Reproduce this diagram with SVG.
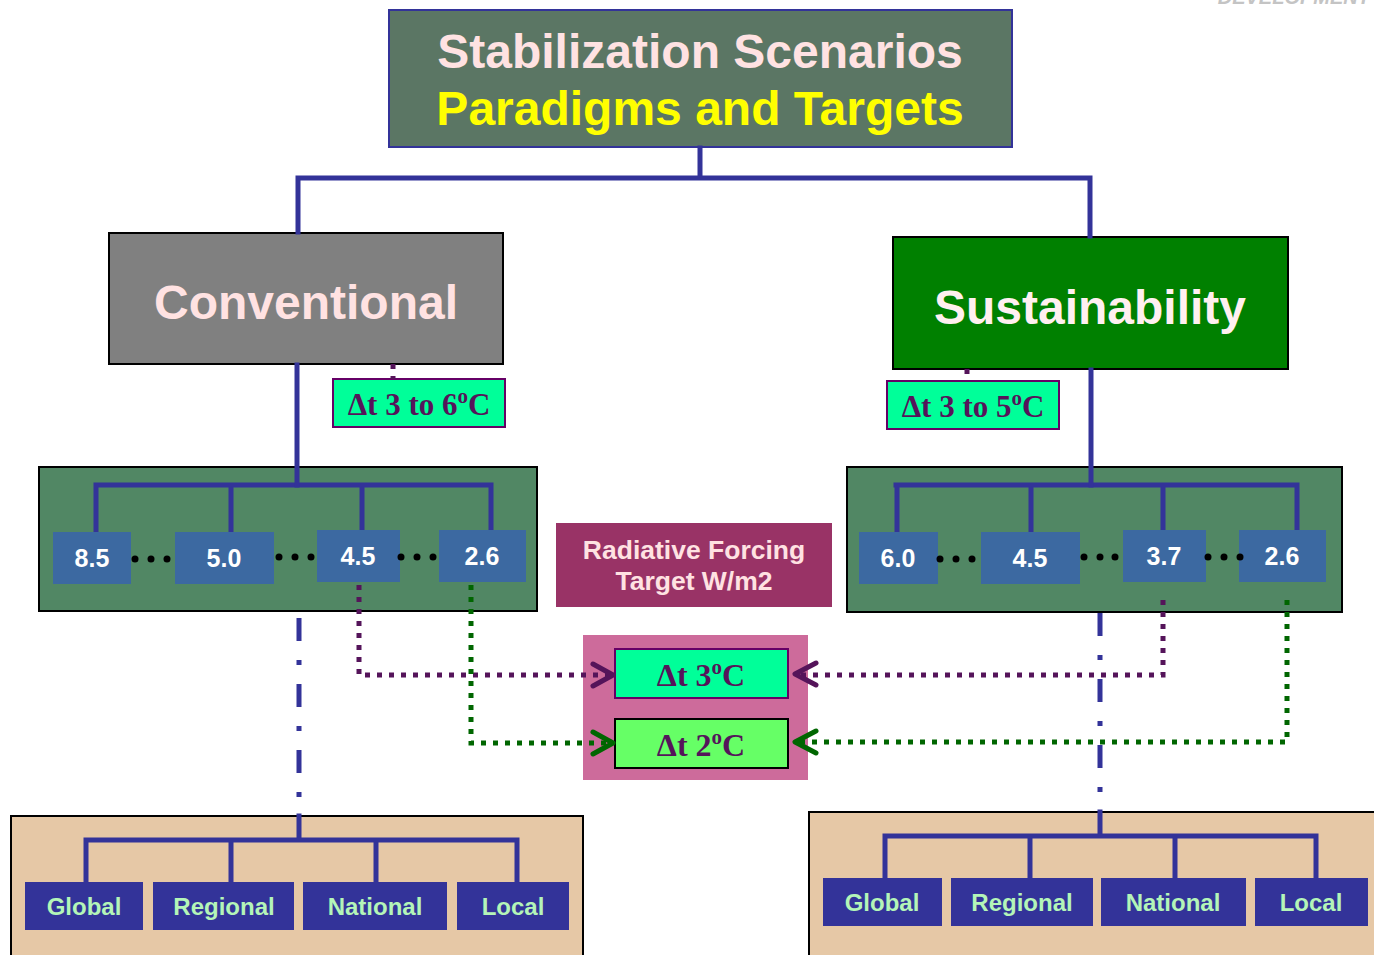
<svg xmlns="http://www.w3.org/2000/svg" width="1374" height="955" viewBox="0 0 1374 955">
<defs>
<style>
.sans{font-family:"Liberation Sans",Arial,sans-serif;font-weight:bold}
.serif{font-family:"Liberation Serif","Times New Roman",serif;font-weight:bold}
.tree{fill:none;stroke:#333399;stroke-width:5;stroke-linecap:square}
.dashdot{fill:none;stroke:#333399;stroke-width:5;stroke-dasharray:23 19 5 19}
.dotp{fill:none;stroke:#55145a;stroke-width:5;stroke-dasharray:5 7}
.dotg{fill:none;stroke:#006600;stroke-width:5;stroke-dasharray:5 7}
.chev{fill:none;stroke-width:5;stroke-linecap:round;stroke-linejoin:round}
.num{fill:#3c69a1}
.numt{fill:#ffffff;font-size:25px;text-anchor:middle}
.lvl{fill:#333399}
.lvlt{fill:#b4f5b8;font-size:24px;text-anchor:middle}
.dt{fill:#55145a;text-anchor:middle}
.dot{fill:#000000}
</style>
</defs>
<rect width="1374" height="955" fill="#ffffff"/>
<text x="1370" y="4" class="sans" font-size="20" fill="#c4c4c4" text-anchor="end" font-style="italic">DEVELOPMENT</text>

<g id="title">
  <rect x="389" y="10" width="623" height="137" fill="#5b7664" stroke="#333399" stroke-width="2"/>
  <text x="700" y="68" class="sans" font-size="48" fill="#ffe2e2" text-anchor="middle">Stabilization Scenarios</text>
  <text x="700" y="125" class="sans" font-size="48" fill="#ffff00" text-anchor="middle">Paradigms and Targets</text>
</g>

<g id="conventional">
  <rect x="109" y="233" width="394" height="131" fill="#808080" stroke="#000000" stroke-width="2"/>
  <text x="306" y="319" class="sans" font-size="48" fill="#ffe2e2" text-anchor="middle">Conventional</text>
</g>

<g id="sustainability">
  <rect x="893" y="237" width="395" height="132" fill="#008000" stroke="#000000" stroke-width="2"/>
  <text x="1090" y="324" class="sans" font-size="48" fill="#fff0f0" text-anchor="middle">Sustainability</text>
</g>

<g id="dt-conv">
  <rect x="333" y="379" width="172" height="48" fill="#00ff99" stroke="#660066" stroke-width="2"/>
  <text x="419" y="415" class="serif dt" font-size="31">Δt 3 to 6<tspan font-size="21" baseline-shift="12">o</tspan>C</text>
</g>

<g id="dt-sust">
  <rect x="887" y="381" width="172" height="48" fill="#00ff99" stroke="#660066" stroke-width="2"/>
  <text x="973" y="417" class="serif dt" font-size="31">Δt 3 to 5<tspan font-size="21" baseline-shift="12">o</tspan>C</text>
</g>

<g id="conv-targets">
  <rect x="39" y="467" width="498" height="144" fill="#518764" stroke="#000000" stroke-width="2"/>
  <path class="tree" d="M96 485 H491 M96 485 V532 M231 485 V532 M362 485 V530 M491 485 V530"/>
  <rect class="num" x="53" y="532" width="78" height="52"/>
  <rect class="num" x="175" y="532" width="99" height="52"/>
  <rect class="num" x="317" y="530" width="83" height="52"/>
  <rect class="num" x="439" y="530" width="87" height="52"/>
  <text class="sans numt" x="92" y="567">8.5</text>
  <text class="sans numt" x="224" y="567">5.0</text>
  <text class="sans numt" x="358" y="565">4.5</text>
  <text class="sans numt" x="482" y="565">2.6</text>
  <circle class="dot" cx="135" cy="559" r="3.5"/><circle class="dot" cx="151" cy="559" r="3.5"/><circle class="dot" cx="167" cy="559" r="3.5"/>
  <circle class="dot" cx="279" cy="557" r="3.5"/><circle class="dot" cx="295" cy="557" r="3.5"/><circle class="dot" cx="311" cy="557" r="3.5"/>
  <circle class="dot" cx="401" cy="557" r="3.5"/><circle class="dot" cx="417" cy="557" r="3.5"/><circle class="dot" cx="433" cy="557" r="3.5"/>
</g>

<g id="sust-targets">
  <rect x="847" y="467" width="495" height="145" fill="#518764" stroke="#000000" stroke-width="2"/>
  <path class="tree" d="M896 485 H1297 M897 485 V532 M1031 485 V532 M1163 485 V530 M1297 485 V530"/>
  <rect class="num" x="859" y="532" width="79" height="52"/>
  <rect class="num" x="981" y="532" width="99" height="52"/>
  <rect class="num" x="1123" y="530" width="83" height="52"/>
  <rect class="num" x="1239" y="530" width="87" height="52"/>
  <text class="sans numt" x="898" y="567">6.0</text>
  <text class="sans numt" x="1030" y="567">4.5</text>
  <text class="sans numt" x="1164" y="565">3.7</text>
  <text class="sans numt" x="1282" y="565">2.6</text>
  <circle class="dot" cx="940" cy="559" r="3.5"/><circle class="dot" cx="956" cy="559" r="3.5"/><circle class="dot" cx="972" cy="559" r="3.5"/>
  <circle class="dot" cx="1084" cy="557" r="3.5"/><circle class="dot" cx="1100" cy="557" r="3.5"/><circle class="dot" cx="1115" cy="557" r="3.5"/>
  <circle class="dot" cx="1208" cy="557" r="3.5"/><circle class="dot" cx="1224" cy="557" r="3.5"/><circle class="dot" cx="1240" cy="557" r="3.5"/>
</g>

<g id="radiative-forcing">
  <rect x="556" y="523" width="276" height="84" fill="#993366"/>
  <text x="694" y="559" class="sans" font-size="26.5" fill="#ffe2e2" text-anchor="middle">Radiative Forcing</text>
  <text x="694" y="590" class="sans" font-size="26.5" fill="#ffe2e2" text-anchor="middle">Target W/m2</text>
</g>

<g id="temp-targets">
  <rect x="583" y="635" width="225" height="145" fill="#cd6b9b"/>
  <rect x="615" y="649" width="173" height="49" fill="#00ff99" stroke="#660066" stroke-width="2"/>
  <text x="701" y="686" class="serif dt" font-size="32">Δt 3<tspan font-size="21" baseline-shift="12">o</tspan>C</text>
  <rect x="615" y="719" width="173" height="49" fill="#66ff66" stroke="#000000" stroke-width="2"/>
  <text x="701" y="756" class="serif dt" font-size="32">Δt 2<tspan font-size="21" baseline-shift="12">o</tspan>C</text>
</g>

<g id="conv-levels">
  <rect x="11" y="816" width="572" height="150" fill="#e6c8a6" stroke="#000000" stroke-width="2"/>
  <path class="tree" d="M299 816 V840 M86 840 H517 M86 840 V882 M231 840 V882 M376 840 V882 M517 840 V882"/>
  <rect class="lvl" x="25" y="882" width="118" height="48"/>
  <rect class="lvl" x="153" y="882" width="141" height="48"/>
  <rect class="lvl" x="303" y="882" width="144" height="48"/>
  <rect class="lvl" x="457" y="882" width="112" height="48"/>
  <text class="sans lvlt" x="84" y="915">Global</text>
  <text class="sans lvlt" x="224" y="915">Regional</text>
  <text class="sans lvlt" x="375" y="915">National</text>
  <text class="sans lvlt" x="513" y="915">Local</text>
</g>

<g id="sust-levels">
  <rect x="809" y="812" width="600" height="160" fill="#e6c8a6" stroke="#000000" stroke-width="2"/>
  <path class="tree" d="M1100 812 V836 M885 836 H1316 M885 836 V878 M1030 836 V878 M1175 836 V878 M1316 836 V878"/>
  <rect class="lvl" x="823" y="878" width="119" height="48"/>
  <rect class="lvl" x="951" y="878" width="142" height="48"/>
  <rect class="lvl" x="1101" y="878" width="145" height="48"/>
  <rect class="lvl" x="1255" y="878" width="113" height="48"/>
  <text class="sans lvlt" x="882" y="911">Global</text>
  <text class="sans lvlt" x="1022" y="911">Regional</text>
  <text class="sans lvlt" x="1173" y="911">National</text>
  <text class="sans lvlt" x="1311" y="911">Local</text>
</g>

<g id="connectors">
  <path class="tree" d="M700 148 V178 M298 178 H1090 M298 178 V232 M1090 178 V236"/>
  <path class="tree" d="M297 365 V485"/>
  <path class="tree" d="M1091 370 V485"/>
  <path class="dotp" d="M393 364 V379"/>
  <path class="dotp" d="M967 369 V381"/>
  <path class="dotp" d="M359 585 V675 H608"/>
  <path class="dotg" d="M471 585 V743 H608"/>
  <path class="dotp" d="M1163 600 V675 H800"/>
  <path class="dotg" d="M1287 600 V742 H800"/>
  <path class="chev" stroke="#55145a" d="M593 664 L613 675 L593 686"/>
  <path class="chev" stroke="#006600" d="M593 732 L613 743 L593 754"/>
  <path class="chev" stroke="#55145a" d="M816 663 L795 674 L816 685"/>
  <path class="chev" stroke="#006600" d="M816 731 L795 742 L816 753"/>
  <path class="dashdot" d="M299 618 V815"/>
  <path class="dashdot" d="M1100 613 V811"/>
</g>
</svg>
